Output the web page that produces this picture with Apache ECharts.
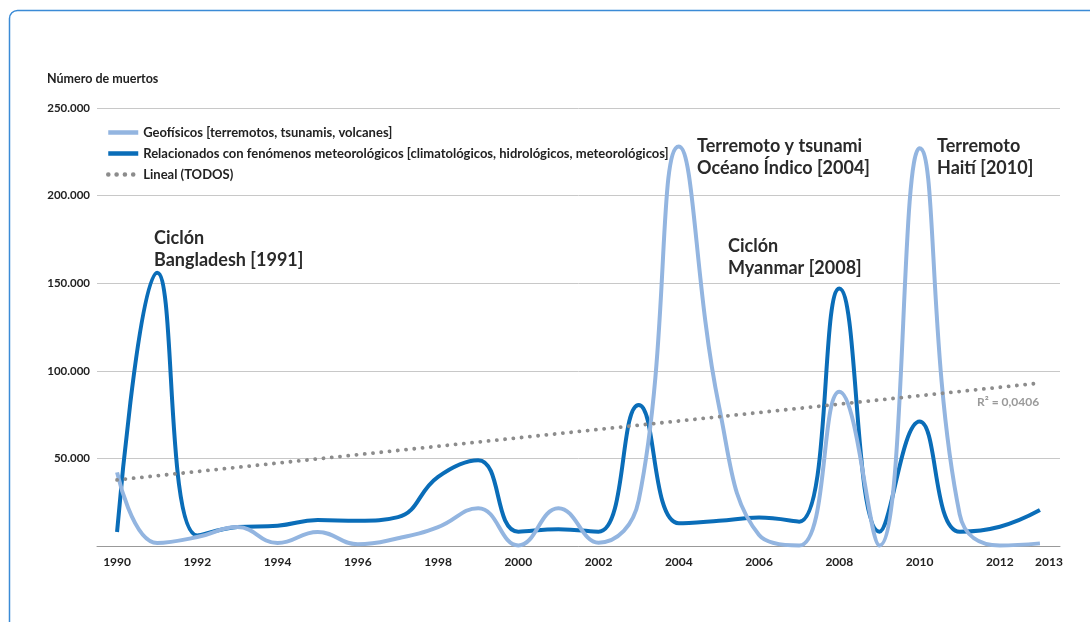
<!DOCTYPE html>
<html>
<head>
<meta charset="utf-8">
<script src="https://cdn.jsdelivr.net/npm/echarts@6/dist/echarts.min.js"></script>
<style>
html,body{margin:0;padding:0;background:#fff;}
#c{width:1090px;height:622px;}
</style>
</head>
<body>
<div id="c"></div>
<script>
const years = ['1990','1991','1992','1993','1994','1995','1996','1997','1998','1999','2000','2001','2002','2003','2004','2005','2006','2007','2008','2009','2010','2011','2012','2013'];
const geofisicos = [42000, 1700, 5100, 10800, 1700, 8000, 1000, 4400, 10800, 21600, 300, 21600, 1900, 26000, 228000, 80000, 6300, 300, 88000, 300, 227000, 18000, 300, 1500];
const meteorologicos = [8000, 156000, 6000, 10800, 11600, 14800, 14400, 16500, 39500, 49000, 8200, 9600, 8200, 80500, 13000, 14400, 16200, 13900, 147000, 8200, 71000, 8200, 11000, 20500];
const tendenciaExtremos = [37700, 93000];
const seriesNames = ['Geofísicos [terremotos, tsunamis, volcanes]', 'Relacionados con fenómenos meteorológicos [climatológicos, hidrológicos, meteorológicos]', 'Lineal (TODOS)'];
const yTicks = [0, 50000, 100000, 150000, 200000, 250000];
const annotations = [
  {text: 'Ciclón\nBangladesh [1991]', x: 154, y: 227},
  {text: 'Terremoto y tsunami\nOcéano Índico [2004]', x: 697, y: 135},
  {text: 'Ciclón\nMyanmar [2008]', x: 728, y: 235},
  {text: 'Terremoto\nHaití [2010]', x: 937, y: 135}
];

const trend = years.map((y, i) => i === 0 ? tendenciaExtremos[0] : (i === years.length - 1 ? tendenciaExtremos[1] : null));
const FONT = 'Lato';

const chart = echarts.init(document.getElementById('c'), null, {renderer: 'canvas'});
chart.setOption({
  animation: false,
  backgroundColor: '#fff',
  textStyle: {fontFamily: FONT},
  grid: {left: 97, right: 30, top: 108, bottom: 76, containLabel: false},
  legend: {
    orient: 'vertical',
    left: 101,
    top: 121,
    itemWidth: 30,
    itemHeight: 14,
    itemGap: 8,
    data: seriesNames,
    itemStyle: {opacity: 0},
    lineStyle: {width: 4.5},
    textStyle: {fontFamily: FONT, fontSize: 13, fontWeight: 'bold', color: '#222', padding: [0, 0, 0, 0]}
  },
  xAxis: {
    type: 'category',
    data: years,
    boundaryGap: true,
    axisLine: {lineStyle: {color: '#999', width: 1}},
    axisTick: {show: false},
    axisLabel: {
      interval: (i) => i % 2 === 0 || i === years.length - 1,
      margin: 10,
      color: '#222',
      fontFamily: FONT,
      fontSize: 12,
      fontWeight: 'bold',
      formatter: (v, i) => i === years.length - 1 ? '{last|' + v + '}' : v,
      rich: {last: {padding: [0, 0, 0, 18], fontFamily: FONT, fontSize: 12, fontWeight: 'bold', color: '#222'}}
    },
    splitLine: {show: false}
  },
  yAxis: {
    type: 'value',
    min: yTicks[0],
    max: yTicks[yTicks.length - 1],
    interval: yTicks[1] - yTicks[0],
    axisLine: {show: false},
    axisTick: {show: false},
    axisLabel: {
      margin: 7,
      color: '#222',
      fontFamily: FONT,
      fontSize: 11.5,
      fontWeight: 'bold',
      formatter: (v) => v === 0 ? '' : v.toString().replace(/\B(?=(\d{3})+(?!\d))/g, '.')
    },
    splitLine: {lineStyle: {color: '#c8c8c8', width: 1}}
  },
  series: [
    {
      name: seriesNames[0],
      type: 'line',
      data: geofisicos,
      smooth: 0.45,
      symbol: 'none',
      z: 4,
      lineStyle: {color: '#93b5e0', width: 4},
      itemStyle: {color: '#93b5e0'}
    },
    {
      name: seriesNames[1],
      type: 'line',
      data: meteorologicos,
      smooth: 0.45,
      symbol: 'none',
      z: 3,
      lineStyle: {color: '#0a6db8', width: 4},
      itemStyle: {color: '#0a6db8'}
    },
    {
      name: seriesNames[2],
      type: 'line',
      data: trend,
      connectNulls: true,
      symbol: 'none',
      z: 5,
      lineStyle: {color: '#8c8c8c', width: 3.8, type: [0.1, 8.2], cap: 'round'},
      itemStyle: {color: '#8c8c8c'}
    }
  ],
  graphic: [
    {type: 'rect', shape: {x: 9.5, y: 10.5, width: 1300, height: 800, r: 8}, style: {fill: 'none', stroke: '#3b8bd6', lineWidth: 1.5}, silent: true},
    {type: 'text', left: 47, top: 72, style: {text: 'Número de muertos', font: 'bold 12.5px ' + FONT, fill: '#222'}},
    {type: 'text', left: 977, top: 396, style: {text: 'R² = 0,0406', font: 'bold 12px ' + FONT, fill: '#9a9a9a'}}
  ].concat(annotations.map(a => ({
    type: 'text', left: a.x, top: a.y,
    style: {text: a.text, fontFamily: FONT, fontSize: 18, fontWeight: 'bold', lineHeight: 22, fill: '#2a2a2a'}
  })))
});
</script>
</body>
</html>
